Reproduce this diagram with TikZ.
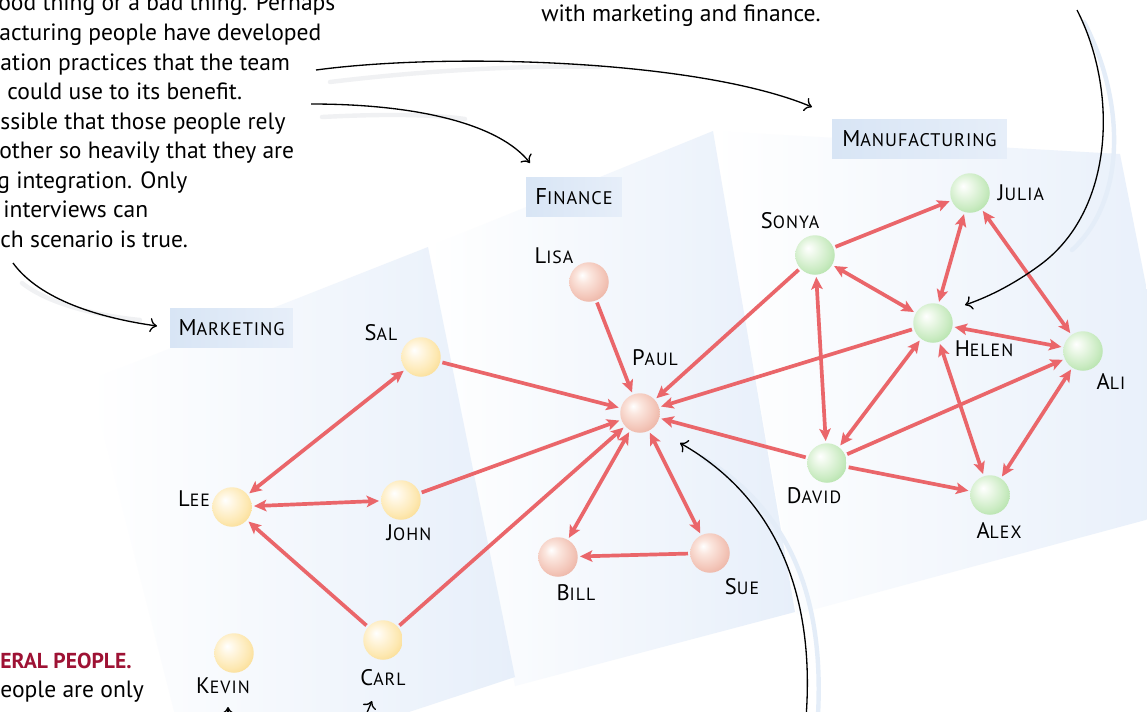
\documentclass[tikz,border=0pt]{standalone}
\usepackage{fontspec}
\setmainfont{PT Sans}
\usetikzlibrary{arrows.meta}
\definecolor{edgered}{RGB}{234,102,106}
\definecolor{darkred}{RGB}{158,18,52}
\definecolor{pblue}{RGB}{231,239,250}
\definecolor{boxl}{RGB}{216,229,245}
\definecolor{boxr}{RGB}{230,238,249}
\definecolor{shadowc}{RGB}{240,241,243}
\definecolor{shadowb}{RGB}{228,237,248}
\definecolor{yc1}{RGB}{255,246,224}
\definecolor{yc2}{RGB}{253,232,178}
\definecolor{yc3}{RGB}{247,210,120}
\definecolor{yc4}{RGB}{238,188,75}
\definecolor{sc1}{RGB}{251,230,222}
\definecolor{sc2}{RGB}{243,198,185}
\definecolor{sc3}{RGB}{229,162,146}
\definecolor{sc4}{RGB}{212,128,112}
\definecolor{gc1}{RGB}{236,248,232}
\definecolor{gc2}{RGB}{202,235,194}
\definecolor{gc3}{RGB}{160,218,150}
\definecolor{gc4}{RGB}{115,192,105}
\pgfdeclareradialshading{yball}{\pgfpoint{-9bp}{9bp}}{color(0bp)=(white); color(9bp)=(yc1); color(24bp)=(yc2); color(40bp)=(yc3); color(54bp)=(yc4)}
\pgfdeclareradialshading{sball}{\pgfpoint{-9bp}{9bp}}{color(0bp)=(white); color(9bp)=(sc1); color(24bp)=(sc2); color(40bp)=(sc3); color(54bp)=(sc4)}
\pgfdeclareradialshading{gball}{\pgfpoint{-9bp}{9bp}}{color(0bp)=(white); color(9bp)=(gc1); color(24bp)=(gc2); color(40bp)=(gc3); color(54bp)=(gc4)}
\newcommand\nm[2]{{\fontsize{12.8pt}{13pt}\selectfont #1}{\fontsize{10.1pt}{11pt}\selectfont\addfontfeature{LetterSpace=6}#2}}
\newcommand\pnm[2]{{\fontsize{13pt}{14pt}\selectfont #1}{\fontsize{10.4pt}{11pt}\selectfont\addfontfeature{LetterSpace=5}#2}}
\tikzset{
  ball/.style={circle, minimum size=0.79cm, inner sep=0pt, outer sep=1.3pt},
  yb/.style={ball, shading=yball},
  sb/.style={ball, shading=sball},
  gb/.style={ball, shading=gball},
  lab/.style={inner sep=0pt, text=black},
  pbox/.style={inner sep=0pt, minimum height=0.78cm, left color=boxl, right color=boxr},
  rel/.style={draw=edgered, line width=2.1pt},
  >={Stealth[length=7pt,width=6.5pt,inset=1.5pt]},
  callout/.style={draw=black, line width=0.75pt, -{To[length=4pt,width=8pt]}},
  shadowline/.style={draw=shadowc, line width=2.5pt, line cap=round},
  shadowbl/.style={draw=shadowb, line width=2.5pt, line cap=round},
  body/.style={inner sep=0pt, anchor=base west, font=\fontsize{13.4pt}{17pt}\selectfont},
}
\begin{document}
\begin{tikzpicture}[x=0.02cm, y=-0.02cm]
\clip (0,0) rectangle (1147,711);
\fill[white] (0,0) rectangle (1147,711);
% panels
\shade[left color=white, right color=pblue] (713,131) -- (1120,154) -- (1190,508) -- (797,614) -- cycle;
\shade[left color=white, right color=pblue] (428,247) -- (713,131) -- (795,612) -- (515,686) -- cycle;
\shade[left color=white, right color=pblue] (90,380) -- (428,247) -- (515,677) -- (400,715) -- (175,715) -- cycle;
% panel labels
\node[pbox, minimum width=2.46cm] (mkt) at (231.5,327.5) {\pnm{M}{ARKETING}};
\node[pbox, minimum width=1.92cm] (fin) at (574,196.5) {\pnm{F}{INANCE}};
\node[pbox, minimum width=3.5cm] (man) at (919.5,138.5) {\pnm{M}{ANUFACTURING}};
% texts
\node[body] (t1) at (-2,10) {ood thing or a bad thing. Perhaps};
\node[body] (t2) at (-1,40) {acturing people have developed};
\node[body] (t3) at (0,70) {ation practices that the team};
\node[body] (t4) at (7,99) {could use to its benefit.};
\node[body] (t5) at (0,129) {ssible that those people rely};
\node[body] (t6) at (-1,158) {other so heavily that they are};
\node[body] (t7) at (-3,188) {g integration. Only};
\node[body] (t8) at (3,217) {interviews can};
\node[body] (t9) at (0,247) {ch scenario is true.};
\node[body] (t10) at (541,21) {with marketing and finance.};
\node[body, text=darkred, font=\fontsize{12.3pt}{17pt}\selectfont\bfseries] (t11) at (0,668) {ERAL PEOPLE.};
\node[body] (t12) at (0,697) {eople are only};
% balls
\node[yb] (sal) at (421,357) {};
\node[yb] (lee) at (232,507) {};
\node[yb] (john) at (401,500) {};
\node[yb] (carl) at (383,640) {};
\node[yb] (kevin) at (234,653) {};
\node[sb] (lisa) at (589,282) {};
\node[sb] (paul) at (640,413) {};
\node[sb] (bill) at (558,557) {};
\node[sb] (sue) at (710,553) {};
\node[gb] (sonya) at (815,255) {};
\node[gb] (julia) at (970,193) {};
\node[gb] (helen) at (933,323) {};
\node[gb] (ali) at (1083,351) {};
\node[gb] (david) at (827,463) {};
\node[gb] (alex) at (990,495) {};
% labels
\node[lab] (salL) at (381,333) {\nm{S}{AL}};
\node[lab] (leeL) at (194,499) {\nm{L}{EE}};
\node[lab] (johnL) at (409,533) {\nm{J}{OHN}};
\node[lab] (carlL) at (383,678) {\nm{C}{ARL}};
\node[lab] (kevinL) at (223,686) {\nm{K}{EVIN}};
\node[lab] (lisaL) at (554,256) {\nm{L}{ISA}};
\node[lab] (paulL) at (655,358) {\nm{P}{AUL}};
\node[lab] (billL) at (576,593) {\nm{B}{ILL}};
\node[lab] (sueL) at (742,587) {\nm{S}{UE}};
\node[lab] (sonyaL) at (790,221) {\nm{S}{ONYA}};
\node[lab] (juliaL) at (1021,193) {\nm{J}{ULIA}};
\node[lab] (helenL) at (984,349) {\nm{H}{ELEN}};
\node[lab] (aliL) at (1111,381) {\nm{A}{LI}};
\node[lab] (davidL) at (814,496) {\nm{D}{AVID}};
\node[lab] (alexL) at (999,530) {\nm{A}{LEX}};
% relations
\draw[rel,<->] (lee) -- (sal);
\draw[rel,<->] (lee) -- (john);
\draw[rel,->] (carl) -- (lee);
\draw[rel,->] (sal) -- (paul);
\draw[rel,->] (john) -- (paul);
\draw[rel,->] (carl) -- (paul);
\draw[rel,->] (lisa) -- (paul);
\draw[rel,<->] (paul) -- (bill);
\draw[rel,<->] (paul) -- (sue);
\draw[rel,->] (sue) -- (bill);
\draw[rel,->] (sonya) -- (paul);
\draw[rel,->] (helen) -- (paul);
\draw[rel,->] (david) -- (paul);
\draw[rel,->] (sonya) -- (julia);
\draw[rel,<->] (sonya) -- (helen);
\draw[rel,<->] (sonya) -- (david);
\draw[rel,<->] (julia) -- (helen);
\draw[rel,<->] (julia) -- (ali);
\draw[rel,<->] (helen) -- (ali);
\draw[rel,<->] (helen) -- (david);
\draw[rel,<->] (helen) -- (alex);
\draw[rel,->] (david) -- (ali);
\draw[rel,<->] (ali) -- (alex);
\draw[rel,->] (david) -- (alex);
% callout coordinates
\coordinate (c1s) at (316,70);  \coordinate (c1e) at (812,107);
\coordinate (c2s) at (311,104); \coordinate (c2e) at (530,163);
\coordinate (c3s) at (13,263);  \coordinate (c3e) at (157,326);
\coordinate (c4s) at (1077,10); \coordinate (c4m) at (1040,265); \coordinate (c4e) at (965,305);
\coordinate (c5s) at (806,718); \coordinate (c5e) at (680,443);
\coordinate (c6s) at (228,725); \coordinate (c6e) at (228,707);
\coordinate (c7s) at (363,722); \coordinate (c7e) at (372,701);
% callout shadows
\draw[shadowline] (330,82) .. controls (420,71) and (520,65) .. (600,67);
\draw[shadowline] (322,117) .. controls (380,114) and (430,114) .. (465,119);
\draw[shadowline] (22,283) .. controls (50,305) and (100,316) .. (140,320);
\draw[shadowbl] (1084,22) .. controls (1125,100) and (1127,200) .. (1072,250);
\draw[shadowbl] (702,457) .. controls (792,512) and (824,600) .. (818,715);
% callouts
\draw[callout] (c1s) .. controls (450,52) and (700,60) .. (c1e);
\draw[callout] (c2s) .. controls (420,104) and (500,125) .. (c2e);
\draw[callout] (c3s) .. controls (40,300) and (100,318) .. (c3e);
\draw[callout] (c4s) .. controls (1118,90) and (1115,210) .. (c4m) .. controls (1010,287) and (985,298) .. (c4e);
\draw[callout] (c5s) .. controls (815,600) and (780,500) .. (c5e);
\draw[callout] (c6s) -- (c6e);
\draw[callout] (c7s) -- (c7e);
\end{tikzpicture}
\end{document}
